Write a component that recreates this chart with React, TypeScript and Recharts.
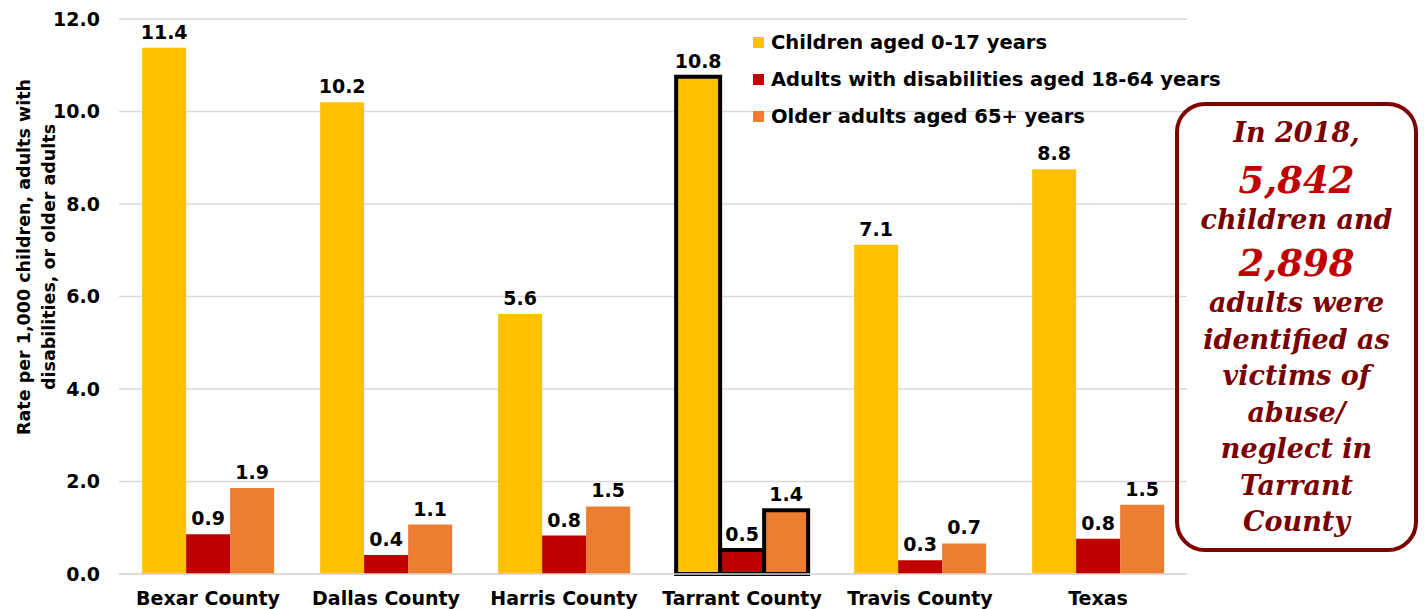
import { BarChart, Bar, XAxis, YAxis, CartesianGrid, LabelList, Cell } from "recharts";

const counties = ["Bexar County", "Dallas County", "Harris County", "Tarrant County", "Travis County", "Texas"];
const children = [11.38, 10.2, 5.62, 10.75, 7.12, 8.75];
const disabledAdults = [0.86, 0.41, 0.83, 0.52, 0.3, 0.76];
const olderAdults = [1.86, 1.07, 1.46, 1.38, 0.66, 1.5];
const yTicks = [0, 2, 4, 6, 8, 10, 12];

const series = [
  { key: "children", name: "Children aged 0-17 years", color: "#FFC000" },
  { key: "disabled", name: "Adults with disabilities aged 18-64 years", color: "#C00000" },
  { key: "older", name: "Older adults aged 65+ years", color: "#ED7D31" },
];

const data = counties.map((c, i) => ({
  county: c,
  children: children[i],
  disabled: disabledAdults[i],
  older: olderAdults[i],
}));

const highlight = "Tarrant County";
const font = "'DejaVu Sans', Verdana, sans-serif";
const serif = "'DejaVu Serif', Georgia, serif";

const yLabel = () => (
  <text
    transform="translate(37, 257) rotate(-90)"
    textAnchor="middle"
    fontFamily={font}
    fontWeight="bold"
    fontSize={17.5}
    fill="#000"
  >
    <tspan x={0} dy={-7}>Rate per 1,000 children, adults with</tspan>
    <tspan x={0} dy={25}>disabilities, or older adults</tspan>
  </text>
);

export default function App() {
  return (
    <div style={{ position: "absolute", left: 0, top: 0, width: 1424, height: 609, background: "#fff" }}>
      <BarChart
        width={1424}
        height={609}
        data={data}
        margin={{ top: 19, right: 237, bottom: 0, left: 0 }}
        barCategoryGap="13%"
        barGap={0}
      >
        <CartesianGrid horizontal vertical={false} stroke="#D9D9D9" strokeWidth={1.5} />
        <XAxis
          dataKey="county"
          height={35}
          axisLine={{ stroke: "#D9D9D9", strokeWidth: 1.5 }}
          tickLine={false}
          tick={{ fill: "#000", fontFamily: font, fontWeight: "bold", fontSize: 19 }}
          tickMargin={12}
        />
        <YAxis
          width={119}
          domain={[0, 12]}
          ticks={yTicks}
          interval={0}
          axisLine={false}
          tickLine={false}
          tickSize={0}
          tickMargin={19}
          tickFormatter={(v: number) => v.toFixed(1)}
          tick={{ fill: "#000", fontFamily: font, fontWeight: "bold", fontSize: 19 }}
          label={{ content: yLabel }}
        />
        {series.map((s) => (
          <Bar key={s.key} dataKey={s.key} name={s.name} fill={s.color} isAnimationActive={false}>
            {data.map((d) => (
              <Cell
                key={d.county}
                stroke={d.county === highlight ? "#000" : "none"}
                strokeWidth={d.county === highlight ? 4 : 0}
              />
            ))}
            <LabelList
              dataKey={s.key}
              position="top"
              offset={9}
              formatter={(v: number) => v.toFixed(1)}
              style={{ fill: "#000", fontFamily: font, fontWeight: "bold", fontSize: 19 }}
            />
          </Bar>
        ))}
      </BarChart>
      <div
        style={{
          position: "absolute",
          left: 753,
          top: 23.5,
          fontFamily: font,
          fontWeight: "bold",
          fontSize: 19.5,
        }}
      >
        {series.map((s) => (
          <div key={s.key} style={{ display: "flex", alignItems: "center", height: 37 }}>
            <span style={{ width: 11, height: 11, background: s.color, marginRight: 7, display: "inline-block" }} />
            <span>{s.name}</span>
          </div>
        ))}
      </div>
      <div
        style={{
          position: "absolute",
          left: 1175,
          top: 102,
          width: 243,
          height: 450,
          border: "4px solid #7F0000",
          borderRadius: 30,
          boxSizing: "border-box",
          fontFamily: serif,
          fontWeight: "bold",
          fontStyle: "italic",
          color: "#7B0000",
          textAlign: "center",
          fontSize: 27,
          lineHeight: "36.5px",
          paddingTop: 9,
        }}
      >
        <div>In 2018,</div>
        <div style={{ fontSize: 37, color: "#C00000", lineHeight: "43.5px", paddingTop: 7 }}>5,842</div>
        <div>children and</div>
        <div style={{ fontSize: 37, color: "#C00000", lineHeight: "43.5px", paddingTop: 3 }}>2,898</div>
        <div>adults were</div>
        <div>identified as</div>
        <div>victims of</div>
        <div>abuse/</div>
        <div>neglect in</div>
        <div>Tarrant</div>
        <div>County</div>
      </div>
    </div>
  );
}
